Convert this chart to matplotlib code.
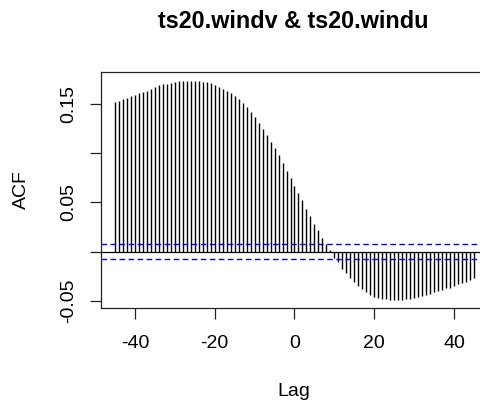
import numpy as np
import matplotlib
matplotlib.use('Agg')
import matplotlib.pyplot as plt

plt.rcParams['font.family'] = ['Liberation Sans', 'DejaVu Sans']

# cross-correlation of ts20.windv and ts20.windu, lags -45..45
lags = np.arange(-45, 46)
acf = [
    0.1514, 0.1527, 0.1548, 0.1561, 0.1575, 0.1588, 0.1605, 0.1619, 0.1632, 0.1646,
    0.1672, 0.1686, 0.1696, 0.1700, 0.1707, 0.1720, 0.1728, 0.1730, 0.1730, 0.1730,
    0.1730, 0.1730, 0.1720, 0.1720, 0.1707, 0.1693, 0.1669, 0.1649, 0.1629, 0.1611,
    0.1581, 0.1548, 0.1507, 0.1463, 0.1416, 0.1362, 0.1307, 0.1247, 0.1183, 0.1112,
    0.1051, 0.0980, 0.0894, 0.0821, 0.0747, 0.0670, 0.0591, 0.0519, 0.0430, 0.0361,
    0.0285, 0.0215, 0.0139, 0.0081, 0.0017, -0.0061, -0.0108, -0.0176, -0.0220, -0.0263,
    -0.0307, -0.0345, -0.0376, -0.0410, -0.0435, -0.0455, -0.0470, -0.0477, -0.0483, -0.0486,
    -0.0487, -0.0486, -0.0486, -0.0479, -0.0476, -0.0466, -0.0456, -0.0446, -0.0435, -0.0425,
    -0.0408, -0.0398, -0.0388, -0.0371, -0.0365, -0.0345, -0.0331, -0.0317, -0.0304, -0.0291,
    -0.0270,
]
ci = 0.0073

yticks = [-0.05, 0.0, 0.05, 0.10, 0.15]
ylabels = ['-0.05', '', '0.05', '', '0.15']
xticks = [-40, -20, 0, 20, 40]

fig = plt.figure(figsize=(4.81, 4.03), dpi=100)
ax = fig.add_axes([0.20998, 0.23499, 0.80457, 0.58710])

ax.vlines(lags, 0, acf, color='black', lw=1.0)
ax.axhline(0, color='black', lw=0.9)
for c in (ci, -ci):
    ax.axhline(c, color='blue', lw=1.0, ls=(0, (4, 2.5)))

ax.set_xlim(-48.5, 48.5)
ax.set_ylim(-0.0574, 0.1824)

for s in ['left', 'bottom', 'top']:
    ax.spines[s].set_color('#222222')
    ax.spines[s].set_linewidth(0.9)
ax.spines['right'].set_visible(False)

ax.set_xticks(xticks)
ax.set_xticklabels([str(t) for t in xticks])
ax.set_yticks(yticks)
ax.set_yticklabels(ylabels, rotation=90, va='center')
ax.tick_params(axis='both', length=7.9, width=0.9, color='#222222', labelsize=14)
ax.tick_params(axis='x', pad=11.5)
ax.tick_params(axis='y', pad=9.5)

ax.set_xlabel('Lag', fontsize=14)
ax.xaxis.set_label_coords(0.4987, -0.3525)
ax.xaxis.label.set_va('center')
ax.set_ylabel('ACF', fontsize=14)
ax.yaxis.set_label_coords(-0.2049, 0.5)
ax.yaxis.label.set_va('center')

ax.set_title('ts20.windv & ts20.windu', fontsize=16.8, fontweight='bold',
             x=0.496, y=1.214, va='center', pad=0)

fig.savefig('out.png', dpi=100)
